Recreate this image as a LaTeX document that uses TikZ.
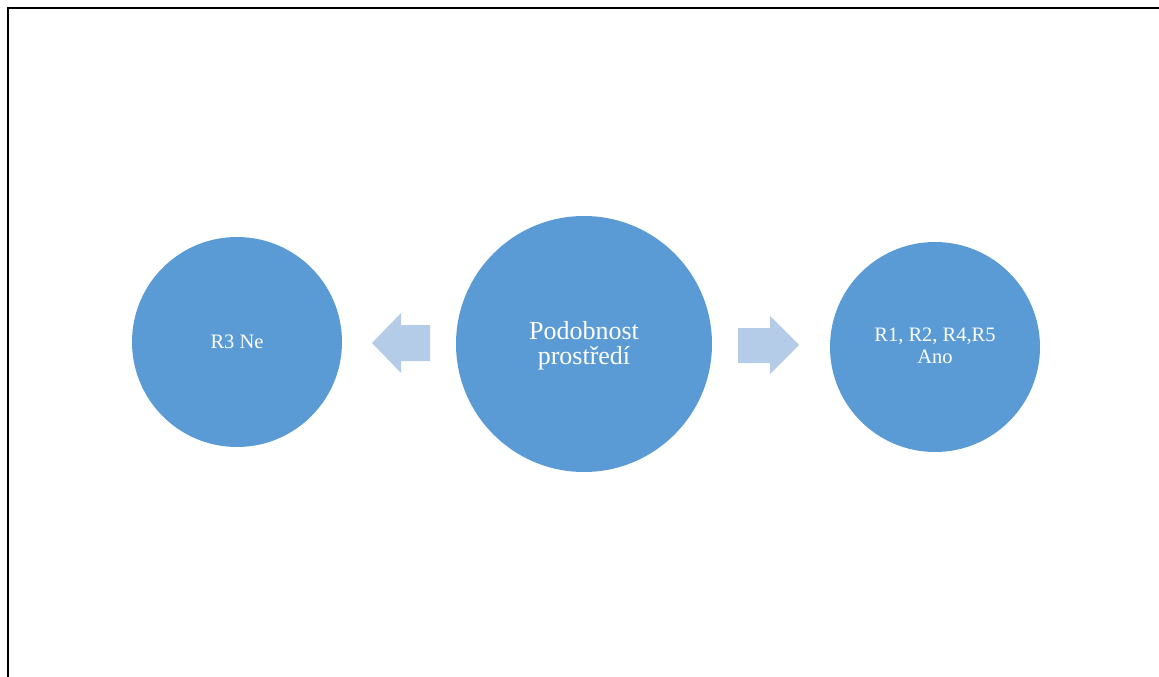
\documentclass[tikz,border=0pt]{standalone}
\usepackage{fontspec}
\setmainfont{Liberation Serif}
\definecolor{circfill}{HTML}{5B9BD5}
\definecolor{arrfill}{HTML}{B5CCE9}
\begin{document}
\begin{tikzpicture}[x=1pt,y=-1pt,
  bubble/.style={circle,fill=circfill,draw=none,inner sep=0pt},
  bubbletext/.style={text=white,align=center,inner sep=0pt},
  smalltext/.style={font=\fontsize{20.5}{21.5}\selectfont},
  bigtext/.style={font=\fontsize{26}{25}\selectfont},
  blockarrow/.style={fill=arrfill,draw=none}]
\useasboundingbox (0,0) rectangle (1159,677);
% page frame
\draw[line width=2pt] (8,677) -- (8,8) -- (1159,8);
% circles
\node[bubble,minimum size=210pt] (ne) at (237,342) {};
\node[bubble,minimum size=256pt] (mid) at (584,344) {};
\node[bubble,minimum size=210pt] (ano) at (935,347) {};
% circle labels (yshift is in page units: positive is upward)
\node[bubbletext,smalltext] (netext) at ([yshift=0.5pt]ne.center) {R3 Ne};
\node[bubbletext,bigtext] (midtext) at ([yshift=-1.5pt]mid.center) {Podobnost\\prostředí};
\node[bubbletext,smalltext] (anotext) at ([yshift=1.3pt]ano.center) {R1, R2, R4,R5\\Ano};
% block arrows
\fill[blockarrow] (430,325) -- (401,325) -- (401,313) -- (372,343) -- (401,373) -- (401,361) -- (430,361) -- cycle;
\fill[blockarrow] (738,328) -- (770,328) -- (770,316) -- (799,345) -- (770,374) -- (770,363) -- (738,363) -- cycle;
\end{tikzpicture}
\end{document}
